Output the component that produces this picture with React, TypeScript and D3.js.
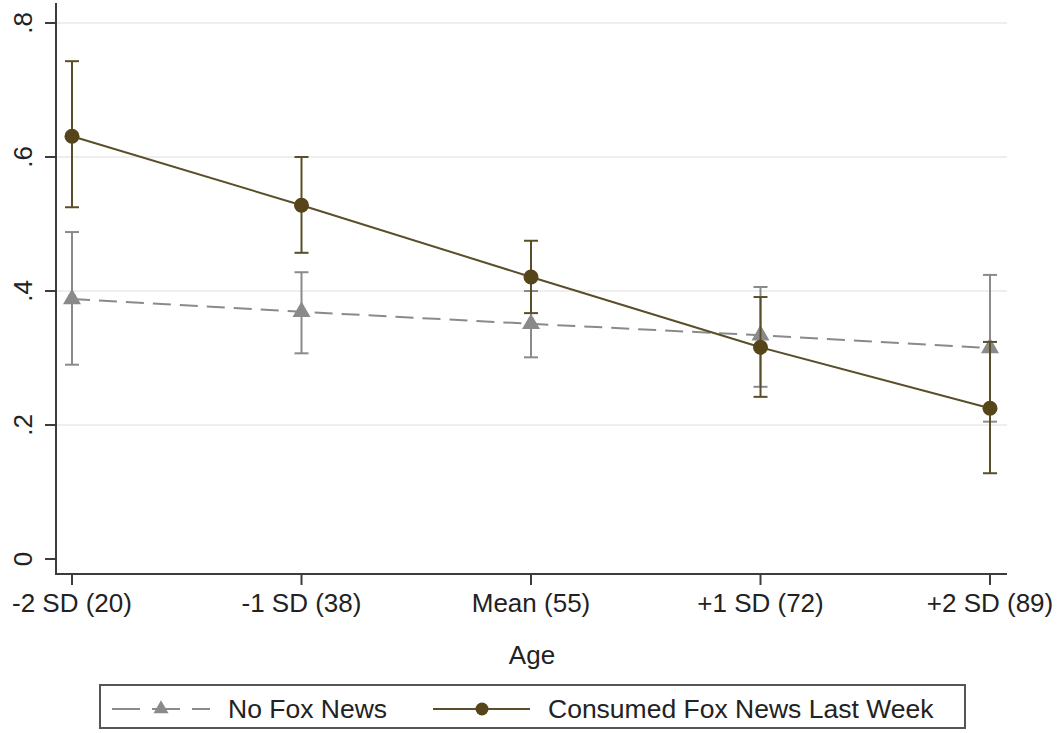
import * as d3 from "d3";
import React from "react";

// x categories (age levels)
const categories = ["-2 SD (20)", "-1 SD (38)", "Mean (55)", "+1 SD (72)", "+2 SD (89)"];
const yTicks = [0, 0.2, 0.4, 0.6, 0.8];
const yTickLabels = ["0", ".2", ".4", ".6", ".8"];

// No Fox News
const noFox = [0.388, 0.369, 0.351, 0.334, 0.315];
const noFoxLo = [0.29, 0.307, 0.301, 0.257, 0.205];
const noFoxHi = [0.488, 0.428, 0.4, 0.406, 0.424];

// Consumed Fox News Last Week
const fox = [0.631, 0.528, 0.421, 0.316, 0.225];
const foxLo = [0.525, 0.457, 0.367, 0.242, 0.128];
const foxHi = [0.743, 0.6, 0.475, 0.391, 0.324];

const W = 1060;
const H = 733;
const FONT = "'Liberation Sans', Arial, sans-serif";
const GREY = "#8a8a8a";
const BROWN = "#5a4e2a";
const BROWN_FILL = "#56451a";
const AXIS = "#3c3c3c";

const x = d3.scalePoint().domain(categories).range([72, 990]);
const y = d3.scaleLinear().domain([0, 0.8]).range([559, 23]);

const triPath = (cx, cy, s = 18) => {
    const h = (s * Math.sqrt(3)) / 2;
    return `M${cx},${cy - (2 * h) / 3}L${cx + s / 2},${cy + h / 3}L${cx - s / 2},${cy + h / 3}Z`;
};

const ErrorBars = ({ lo, hi, color }) => (
    <g stroke={color} strokeWidth={2} fill="none">
        {categories.map((c, i) => {
            const cx = x(c);
            return (
                <g key={c}>
                    <line x1={cx} x2={cx} y1={y(lo[i])} y2={y(hi[i])} />
                    <line x1={cx - 7} x2={cx + 7} y1={y(lo[i])} y2={y(lo[i])} />
                    <line x1={cx - 7} x2={cx + 7} y1={y(hi[i])} y2={y(hi[i])} />
                </g>
            );
        })}
    </g>
);

export default function App() {
    const line = d3
        .line()
        .x((d) => d[0])
        .y((d) => d[1]);
    const noFoxPts = categories.map((c, i) => [x(c), y(noFox[i])]);
    const foxPts = categories.map((c, i) => [x(c), y(fox[i])]);

    return (
        <svg
            width={W}
            height={H}
            style={{ position: "absolute", left: 0, top: 0, background: "#fff" }}
            fontFamily={FONT}
        >
            <rect width={W} height={H} fill="#fff" />

            {/* gridlines */}
            {yTicks.filter((t) => t > 0).map((t) => (
                <line key={t} x1={57} x2={1007} y1={y(t)} y2={y(t)} stroke="#e8e8e8" strokeWidth={1.5} />
            ))}

            {/* axes */}
            <line x1={56} x2={56} y1={3} y2={575} stroke={AXIS} strokeWidth={2} />
            <line x1={55} x2={1007} y1={574} y2={574} stroke={AXIS} strokeWidth={2} />
            {yTicks.map((t, i) => (
                <g key={t}>
                    <line x1={45} x2={56} y1={y(t)} y2={y(t)} stroke={AXIS} strokeWidth={2} />
                    <text
                        transform={`translate(32,${y(t)}) rotate(-90)`}
                        textAnchor="middle"
                        fontSize={26}
                        fill="#222"
                    >
                        {yTickLabels[i]}
                    </text>
                </g>
            ))}
            {categories.map((c) => (
                <g key={c}>
                    <line x1={x(c)} x2={x(c)} y1={574} y2={585} stroke={AXIS} strokeWidth={2} />
                    <text x={x(c)} y={612} textAnchor="middle" fontSize={26} fill="#222">
                        {c}
                    </text>
                </g>
            ))}
            <text x={532} y={664} textAnchor="middle" fontSize={26} fill="#222">
                Age
            </text>

            {/* No Fox News */}
            <ErrorBars lo={noFoxLo} hi={noFoxHi} color={GREY} />
            <path d={line(noFoxPts)} fill="none" stroke={GREY} strokeWidth={2} strokeDasharray="18,9" />
            {noFoxPts.map((p, i) => (
                <path key={i} d={triPath(p[0], p[1])} fill={GREY} />
            ))}

            {/* Consumed Fox News */}
            <ErrorBars lo={foxLo} hi={foxHi} color={BROWN} />
            <path d={line(foxPts)} fill="none" stroke={BROWN} strokeWidth={2} />
            {foxPts.map((p, i) => (
                <circle key={i} cx={p[0]} cy={p[1]} r={7.5} fill={BROWN_FILL} />
            ))}

            {/* legend */}
            <rect x={100} y={685} width={865} height={43} fill="#fff" stroke="#555" strokeWidth={2} />
            <line x1={112} x2={210} y1={709} y2={709} stroke={GREY} strokeWidth={2} strokeDasharray="28,12" />
            <path d={triPath(161, 709, 15)} fill={GREY} />
            <text x={228} y={718} fontSize={26.5} fill="#222">
                No Fox News
            </text>
            <line x1={433} x2={530} y1={709} y2={709} stroke={BROWN} strokeWidth={2} />
            <circle cx={482} cy={709} r={6.5} fill={BROWN_FILL} />
            <text x={548} y={718} fontSize={26.5} fill="#222">
                Consumed Fox News Last Week
            </text>
        </svg>
    );
}
